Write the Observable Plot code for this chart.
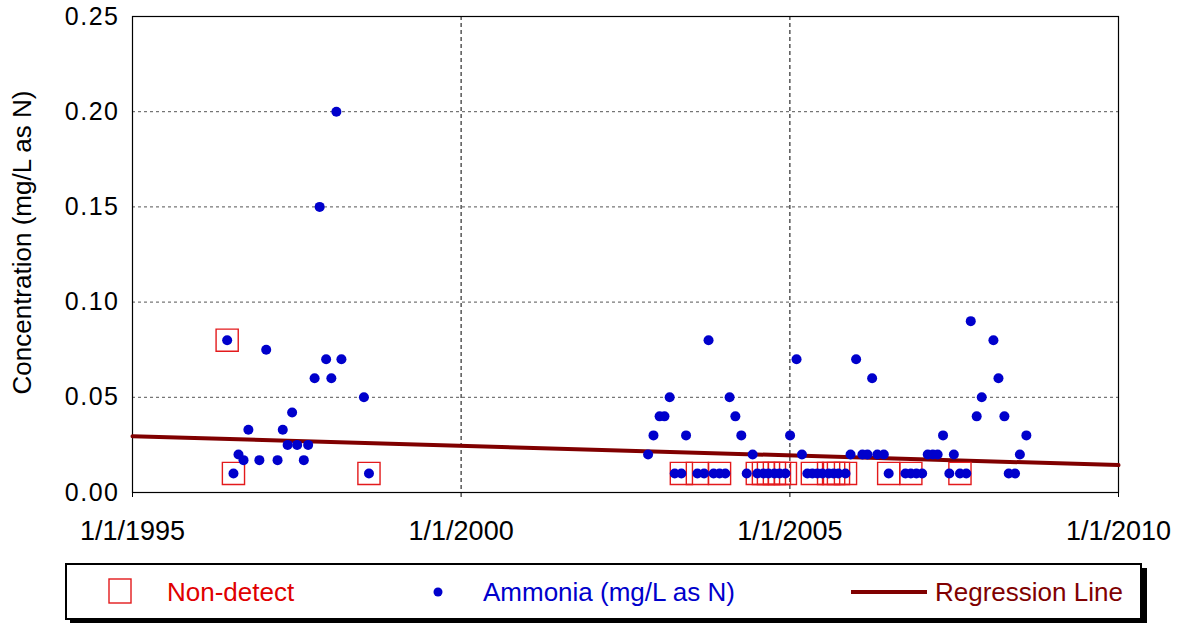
<!DOCTYPE html>
<html>
<head>
<meta charset="utf-8">
<script src="https://cdn.jsdelivr.net/npm/d3@7"></script>
<script src="https://cdn.jsdelivr.net/npm/@observablehq/plot@0.6"></script>
<style>
  html, body { margin: 0; padding: 0; background: #fff; }
  #wrap { position: relative; width: 1178px; height: 623px; overflow: hidden; font-family: "Liberation Sans", Arial, sans-serif; }
  #chart svg { display: block; overflow: visible; }
  #chart svg g[aria-label="y-axis tick label"] text { letter-spacing: 1.5px; }
  #legend { position: absolute; left: 65px; top: 563px; width: 1073px; height: 53px; border: 2px solid #000; background: #fff; box-shadow: 5px 5px 0 #000; }
  #legend .t { position: absolute; top: 12px; font-size: 26px; line-height: 30px; white-space: nowrap; }
  #legend svg { position: absolute; left: 0; top: 0; }
</style>
</head>
<body>
<div id="wrap">
  <div id="chart"></div>
  <div id="legend"></div>
</div>
<script>
// ---- Data ----
const sampleDates = [
  "1996-06-10","1996-07-15","1996-08-12","1996-09-09","1996-10-06","1996-12-06",
  "1997-01-13","1997-03-17","1997-04-15","1997-05-12","1997-06-06","1997-07-04",
  "1997-08-10","1997-09-03","1997-10-09","1997-11-06","1997-12-12","1998-01-10",
  "1998-02-07","1998-03-07","1998-07-10","1998-08-07",
  "2002-11-05","2002-12-05","2003-01-08","2003-02-04","2003-03-05","2003-04-02",
  "2003-05-09","2003-06-04","2003-08-06","2003-09-12","2003-10-07","2003-11-04",
  "2003-12-07","2004-01-08","2004-02-01","2004-03-04","2004-04-06","2004-05-06",
  "2004-06-08","2004-07-04","2004-08-07","2004-09-04","2004-10-07","2004-11-04",
  "2004-12-07","2005-01-02","2005-02-07","2005-03-09","2005-04-08","2005-05-06",
  "2005-06-03","2005-07-01","2005-08-04","2005-09-01","2005-09-28","2005-11-06",
  "2005-12-04","2006-01-04","2006-02-08","2006-03-08","2006-04-03","2006-05-02",
  "2006-06-07","2006-07-04","2006-10-05","2006-11-04","2006-12-05","2007-01-06",
  "2007-02-06","2007-03-06","2007-04-02","2007-05-02","2007-06-06","2007-07-01",
  "2007-08-04","2007-09-08","2007-10-03","2007-11-05","2007-12-03","2008-02-06",
  "2008-03-05","2008-04-07","2008-05-01","2008-06-05","2008-07-02","2008-08-07"
];
const ammonia = [
  0.080,0.010,0.020,0.017,0.033,0.017,
  0.075,0.017,0.033,0.025,0.042,0.025,
  0.017,0.025,0.060,0.150,0.070,0.060,
  0.200,0.070,0.050,0.010,
  0.020,0.030,0.040,0.040,0.050,0.010,
  0.010,0.030,0.010,0.010,0.080,0.010,
  0.010,0.010,0.050,0.040,0.030,0.010,
  0.020,0.010,0.010,0.010,0.010,0.010,
  0.010,0.030,0.070,0.020,0.010,0.010,
  0.010,0.010,0.010,0.010,0.010,0.010,
  0.020,0.070,0.020,0.020,0.060,0.020,
  0.020,0.010,0.010,0.010,0.010,0.010,
  0.020,0.020,0.020,0.030,0.010,0.020,
  0.010,0.010,0.090,0.040,0.050,0.080,
  0.060,0.040,0.010,0.010,0.020,0.030
];
// 1 = non-detect
const nonDetect = [
  1,1,0,0,0,0,
  0,0,0,0,0,0,
  0,0,0,0,0,0,
  0,0,0,1,
  0,0,0,0,0,0,
  1,0,1,0,0,0,
  1,0,0,0,0,0,
  0,1,1,1,1,1,
  1,0,0,0,0,1,
  0,0,1,1,1,1,
  0,0,0,0,0,0,
  0,1,0,1,0,0,
  0,0,0,0,0,0,
  1,0,0,0,0,0,
  0,0,0,0,0,0
];
const regDates = ["1995-01-01", "2010-01-01"];
const regValues = [0.0296, 0.0144];
const xTickDates = ["1995-01-01", "2000-01-01", "2005-01-01", "2010-01-01"];
const xGridDates = ["2000-01-01", "2005-01-01"];
const yTicks = [0, 0.05, 0.10, 0.15, 0.20, 0.25];
const yGridTicks = [0.05, 0.10, 0.15, 0.20];
const yTitle = "Concentration (mg/L as N)";
const legendLabels = ["Non-detect", "Ammonia (mg/L as N)", "Regression Line"];

// ---- Build tables ----
const samples = sampleDates.map((d, i) => ({date: new Date(d), value: ammonia[i], nd: nonDetect[i]}));
const ndSamples = samples.filter(d => d.nd === 1);
const reg = regDates.map((d, i) => ({date: new Date(d), value: regValues[i]}));

const BLUE = "#0000cc", RED = "#e31a1c", DARKRED = "#800000";
const fmt = d3.utcFormat("%-m/%-d/%Y");

const chart = Plot.plot({
  width: 1178,
  height: 555,
  marginLeft: 132,
  marginRight: 60,
  marginTop: 16,
  marginBottom: 63,
  style: {fontFamily: "'Liberation Sans', Arial, sans-serif", background: "white", color: "black"},
  x: {type: "utc", domain: [new Date(xTickDates[0]), new Date(xTickDates[3])]},
  y: {domain: [0, 0.25]},
  marks: [
    Plot.gridY(yGridTicks, {stroke: "#555", strokeOpacity: 1, strokeDasharray: "3,3"}),
    Plot.gridX(xGridDates.map(d => new Date(d)), {stroke: "#000", strokeOpacity: 1, strokeDasharray: "4,3"}),
    Plot.frame({stroke: "#000", strokeWidth: 1.2}),
    Plot.axisY({ticks: yTicks, tickFormat: d => d.toFixed(2), tickSize: 0, tickPadding: 13, fontSize: 25, label: null}),
    Plot.axisX({ticks: xTickDates.map(d => new Date(d)), tickFormat: fmt, tickSize: 5, tickPadding: 23, fontSize: 27, label: null}),
    Plot.line(reg, {x: "date", y: "value", stroke: DARKRED, strokeWidth: 4}),
    Plot.dot(ndSamples, {x: "date", y: "value", symbol: "square", r: 12.5, stroke: RED, strokeWidth: 1.4, fill: "none"}),
    Plot.dot(samples, {x: "date", y: "value", r: 5, fill: BLUE, stroke: "none"}),
    Plot.text([yTitle], {frameAnchor: "left", textAnchor: "middle", dx: -110, dy: -12, rotate: -90, fontSize: 26, fill: "black", text: d => d})
  ]
});
document.getElementById("chart").appendChild(chart);

// ---- Legend ----
const legend = document.getElementById("legend");
const ns = "http://www.w3.org/2000/svg";
const lsvg = document.createElementNS(ns, "svg");
lsvg.setAttribute("width", 1073);
lsvg.setAttribute("height", 53);
lsvg.innerHTML =
  `<rect x="42" y="14" width="22" height="24" fill="none" stroke="${RED}" stroke-width="1.4"></rect>` +
  `<circle cx="371" cy="27" r="4.5" fill="${BLUE}"></circle>` +
  `<line x1="784" x2="860" y1="27" y2="27" stroke="${DARKRED}" stroke-width="4"></line>`;
legend.appendChild(lsvg);
const items = [
  {text: legendLabels[0], left: 100, color: "#e00000"},
  {text: legendLabels[1], left: 416, color: BLUE},
  {text: legendLabels[2], left: 868, color: DARKRED}
];
for (const it of items) {
  const s = document.createElement("div");
  s.className = "t";
  s.textContent = it.text;
  s.style.left = it.left + "px";
  s.style.color = it.color;
  legend.appendChild(s);
}
</script>
</body>
</html>
